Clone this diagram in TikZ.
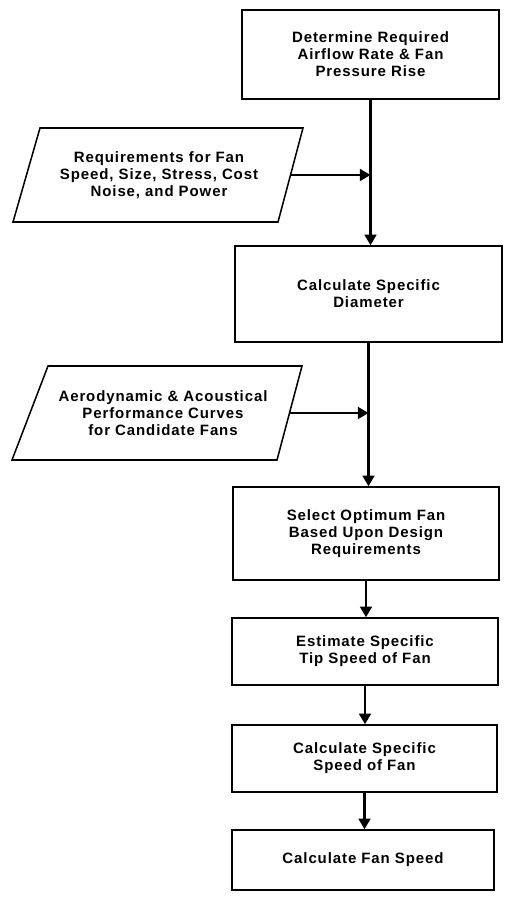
\documentclass[tikz,border=0pt]{standalone}
\usepackage{fontspec}
\setmainfont{Liberation Sans}[LetterSpace=6]
\usetikzlibrary{arrows.meta,calc}
\tikzset{
  box/.style={draw, line width=1.3pt, align=center, inner sep=2pt,
    font=\fontsize{12.8}{14.5}\selectfont\bfseries},
  para/.style={line width=1.3pt, line join=miter},
  ptext/.style={align=center, font=\fontsize{12.8}{14.5}\selectfont\bfseries},
  arr/.style={line width=2pt, -{Triangle[length=9pt,width=10pt]}},
  ln/.style={line width=2pt}
}
\begin{document}
\begin{tikzpicture}[x=0.03cm,y=-0.03cm]
\useasboundingbox (0,0) rectangle (505,901);
% boxes
\node[box, minimum width=7.71cm, minimum height=2.67cm] (b1) at (370.5,54.5)
  {Determine Required\\Airflow Rate \& Fan\\Pressure Rise};
\node[box, minimum width=8.01cm, minimum height=2.88cm] (b2) at (368.5,294)
  {Calculate Specific\\Diameter};
\node[box, minimum width=7.98cm, minimum height=2.79cm] (b3) at (366,533.5)
  {Select Optimum Fan\\Based Upon Design\\Requirements};
\node[box, minimum width=7.98cm, minimum height=2.01cm] (b4) at (365,651.5)
  {Estimate Specific\\Tip Speed of Fan};
\node[box, minimum width=7.95cm, minimum height=2.01cm] (b5) at (364.5,758.5)
  {Calculate Specific\\Speed of Fan};
\node[box, minimum width=7.86cm, minimum height=1.8cm] (b6) at (363,860)
  {Calculate Fan Speed};
% parallelograms
\draw[para] (40,128) -- (303,128) -- (278,222) -- (13,222) -- cycle;
\node[ptext] (p1) at (159,175)
  {Requirements for Fan\\Speed, Size, Stress, Cost\\Noise, and Power};
\coordinate (p1r) at (291,175);
\draw[para] (48,366) -- (302,366) -- (277,460) -- (12,460) -- cycle;
\node[ptext] (p2) at (163,413)
  {Aerodynamic \& Acoustical\\Performance Curves\\for Candidate Fans};
\coordinate (p2r) at (290,413);
% connectors
\draw[arr] (b1.south) -- (b1.south |- b2.north);
\draw[arr] (p1r) -- (p1r -| b1.south);
\draw[arr] (b2.south) -- (b2.south |- b3.north);
\draw[arr] (p2r) -- (p2r -| b2.south);
\draw[arr] (b3.south) -- (b3.south |- b4.north);
\draw[arr] (b4.south) -- (b4.south |- b5.north);
\draw[arr] (b5.south) -- (b5.south |- b6.north);
\end{tikzpicture}
\end{document}
